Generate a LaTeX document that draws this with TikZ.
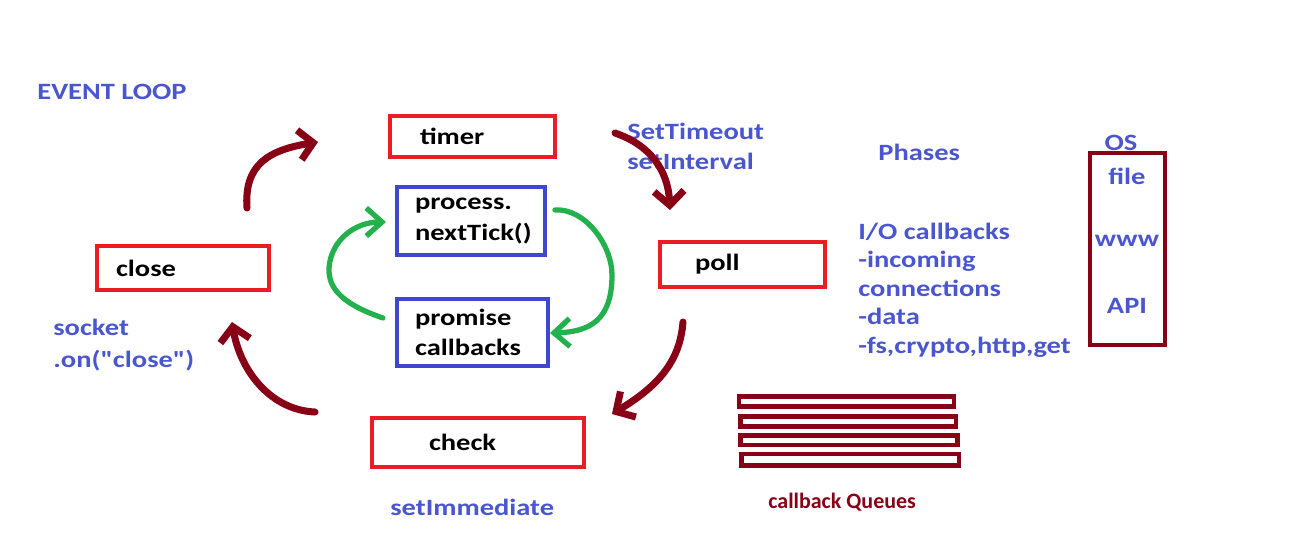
\documentclass[tikz,border=0pt]{standalone}
\usepackage{fontspec}
\setmainfont{Carlito}[FakeStretch=1.22, Ligatures=TeXOff]
\newfontfamily\queuefont{Carlito}[FakeStretch=1.0, BoldFont={Carlito Bold}]
\usetikzlibrary{arrows.meta}
\definecolor{boxred}{HTML}{ED1C24}
\definecolor{boxblue}{HTML}{3F48CC}
\definecolor{labelblue}{HTML}{4A56CF}
\definecolor{loopred}{HTML}{880015}
\definecolor{loopgreen}{HTML}{22B14C}
\newcommand{\phasefont}{\fontsize{13.3}{16.2}\selectfont\bfseries}
\tikzstyle{phase} = [draw=boxred, line width=2.2pt, rectangle, align=left,
    inner ysep=0pt, font=\phasefont]
\tikzstyle{tickbox} = [phase, draw=boxblue]
\tikzstyle{note} = [text=labelblue, font=\phasefont, align=left, inner sep=0pt]
\tikzstyle{loopline} = [draw=loopred, line width=4pt, line cap=round, line join=round,
    -{Straight Barb[length=8pt,width=17pt]}]
\tikzstyle{tickline} = [draw=loopgreen, line width=3pt, line cap=round, line join=round,
    -{Straight Barb[length=9pt,width=16pt]}]

\begin{document}
\begin{tikzpicture}[x=0.02cm, y=-0.02cm]
    \useasboundingbox (0,0) rectangle (1295,549);
    % phases of the loop
    \node[phase, minimum height=0.82cm, text width=2.1cm, inner xsep=0.6cm] (timer) at (472.5,136.5) {timer};
    \node[phase, minimum height=0.9cm, text width=1.9cm, inner xsep=0.7cm] (poll) at (742.5,264.5) {poll};
    \node[phase, minimum height=0.98cm, text width=1.96cm, inner xsep=1.14cm] (check) at (478,442.5) {check};
    \node[phase, minimum height=0.88cm, text width=2.68cm, inner xsep=0.38cm] (close) at (183,268) {close};
    \node[tickbox, minimum height=1.36cm, text width=2.24cm, inner xsep=0.36cm] (tick) at (471,221) {process.\\[1.5pt]nextTick()};
    \node[tickbox, minimum height=1.34cm, text width=2.3cm, inner xsep=0.36cm] (promise) at (472.5,332.5) {promise\\[1pt]callbacks};

    % labels
    \node[note, anchor=west] (title) at (37,92) {EVENT LOOP};
    \node[note, anchor=west] (timers) at (627,146) {SetTimeout\\[1pt]setInterval};
    \node[note, anchor=west] (phases) at (878,152) {Phases};
    \node[note, anchor=west] (io) at (858,290) {I/O callbacks\\-incoming\\connections\\-data\\-fs,crypto,http,get};
    \node[note, anchor=west] (socket) at (53,345) {socket\\[2pt].on("close")};
    \node[note, anchor=west] (immediate) at (390,507) {setImmediate};

    % os side
    \node[draw=loopred, line width=2.8pt, minimum width=1.5cm, minimum height=3.84cm] (osbox) at (1127.5,249) {};
    \node[note] (os) at (1121,143) {OS};
    \node[note] (file) at (1127,176) {file};
    \node[note] (www) at (1127,241) {www};
    \node[note] (api) at (1127,306) {API};

    % callback queues
    \foreach \xa/\ya/\xb/\yb in {739/396.5/954/406.5, 740.5/416.5/956/426.5,
        740.5/435.5/957.5/445, 741.5/454/959/465.5}
        \draw[loopred, line width=2.8pt] (\xa,\ya) rectangle (\xb,\yb);
    \node[text=loopred, font=\queuefont\bfseries\fontsize{12.5}{14}\selectfont, anchor=west, inner sep=0pt] (queues) at (768,502) {callback Queues};

    % loop arrows
    \coordinate (c1) at (247,208); \coordinate (c2) at (318,142);
    \coordinate (c3) at (615,133); \coordinate (c4) at (670,210);
    \coordinate (c5) at (683,322); \coordinate (c6) at (612,414);
    \coordinate (c7) at (315,412); \coordinate (c8) at (232,322);
    \draw[loopline] (c1) .. controls (244,165) and (268,150) .. (c2);
    \draw[loopline] (c3) .. controls (650,145) and (668,170) .. (c4);
    \draw[loopline] (c5) .. controls (680,360) and (660,385) .. (c6);
    \draw[loopline] (c7) .. controls (270,410) and (240,370) .. (c8);

    % microtask arrows
    \coordinate (g1) at (555,210); \coordinate (g2) at (550,333);
    \coordinate (g3) at (383,318); \coordinate (g4) at (386,222);
    \draw[tickline] (g1) .. controls (585,208) and (612,245) .. (612,275)
        .. controls (612,320) and (590,332) .. (g2);
    \draw[tickline] (g3) .. controls (345,305) and (328,290) .. (329,268)
        .. controls (331,240) and (355,222) .. (g4);
\end{tikzpicture}
\end{document}
